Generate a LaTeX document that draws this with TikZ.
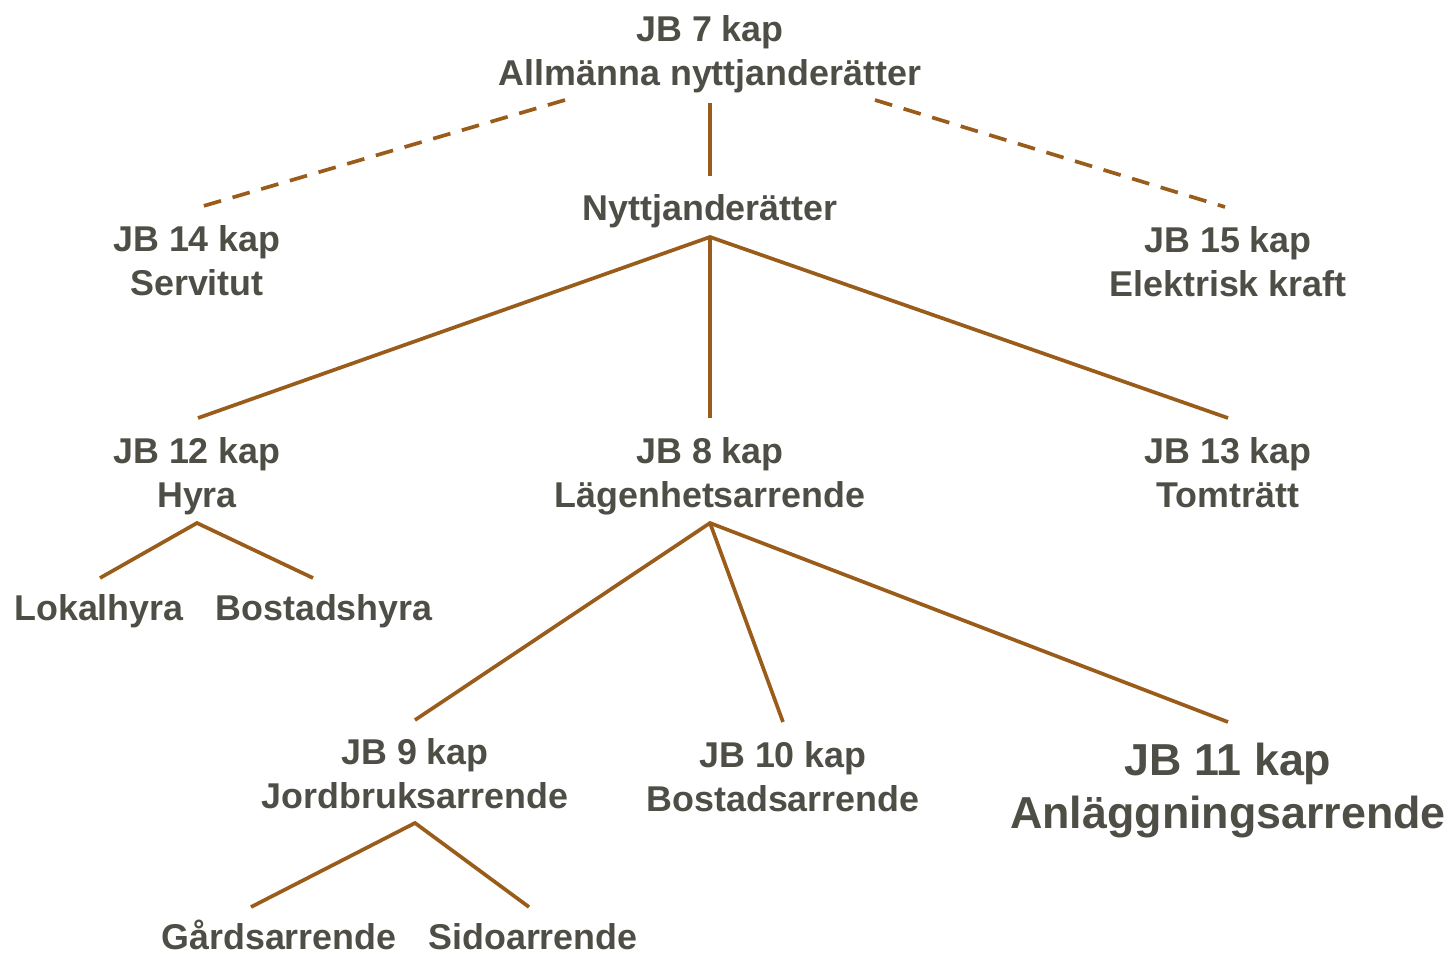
\documentclass[tikz,border=0pt]{standalone}
\usepackage{fontspec}
\setmainfont{Liberation Sans}

\begin{document}
\begin{tikzpicture}[x=0.02cm,y=-0.02cm,
    lawtext/.style={anchor=north,align=center,inner sep=0pt,text=jb_text,
      font=\fontsize{20.4pt}{24.9pt}\selectfont\bfseries},
    bigtext/.style={lawtext,font=\fontsize{25.5pt}{30pt}\selectfont\bfseries},
    branch/.style={draw=jb_line,line width=2.1pt},
    weakbranch/.style={branch,dash pattern=on 10.2pt off 6.8pt}]
\definecolor{jb_text}{RGB}{78,78,70}
\definecolor{jb_line}{RGB}{154,92,26}
\useasboundingbox (0,0) rectangle (1452,954);

\node[lawtext] (jb7) at (710,15) {JB 7 kap\\Allmänna nyttjanderätter};
\node[lawtext] (nytt) at (710,194) {Nyttjanderätter};
\node[lawtext] (jb14) at (197,225) {JB 14 kap\\Servitut};
\node[lawtext] (jb15) at (1228,226) {JB 15 kap\\Elektrisk kraft};

\node[lawtext] (jb12) at (197,437) {JB 12 kap\\Hyra};
\node[lawtext] (jb8) at (710,437) {JB 8 kap\\Lägenhetsarrende};
\node[lawtext] (jb13) at (1228,437) {JB 13 kap\\Tomträtt};

\node[lawtext] (lokal) at (99,594) {Lokalhyra};
\node[lawtext] (bostad) at (324,594) {Bostadshyra};

\node[lawtext] (jb9) at (415,738) {JB 9 kap\\Jordbruksarrende};
\node[lawtext] (jb10) at (783,741) {JB 10 kap\\Bostadsarrende};
\node[bigtext] (jb11) at (1228,743) {JB 11 kap\\Anläggningsarrende};

\node[lawtext] (gard) at (279,920) {Gårdsarrende};
\node[lawtext] (sido) at (533,923) {Sidoarrende};

% end points of the branches
\coordinate (jb7-l) at (565,100);
\coordinate (jb7-r) at (875,100);
\coordinate (jb7-b) at (710,103);
\coordinate (nytt-t) at (710,176);
\coordinate (nytt-b) at (710,237);
\coordinate (jb14-t) at (200,207);
\coordinate (jb15-t) at (1225,207);
\coordinate (jb12-t) at (198,418);
\coordinate (jb8-t) at (710,418);
\coordinate (jb13-t) at (1228,418);
\coordinate (jb12-b) at (197,523);
\coordinate (lokal-t) at (100,578);
\coordinate (bostad-t) at (313,578);
\coordinate (jb8-b) at (710,523);
\coordinate (jb9-t) at (415,720);
\coordinate (jb10-t) at (783,722);
\coordinate (jb11-t) at (1228,722);
\coordinate (jb9-b) at (415,823);
\coordinate (gard-t) at (251,907);
\coordinate (sido-t) at (529,907);

\draw[weakbranch] (jb7-l) to (jb14-t);
\draw[weakbranch] (jb7-r) to (jb15-t);
\draw[branch] (jb7-b) to (nytt-t);

\draw[branch] (jb12-t) to (nytt-b) to (jb13-t);
\draw[branch] (nytt-b) to (jb8-t);

\draw[branch] (lokal-t) to (jb12-b) to (bostad-t);

\draw[branch] (jb9-t) to (jb8-b) to (jb11-t);
\draw[branch] (jb8-b) to (jb10-t);

\draw[branch] (gard-t) to (jb9-b) to (sido-t);
\end{tikzpicture}
\end{document}
